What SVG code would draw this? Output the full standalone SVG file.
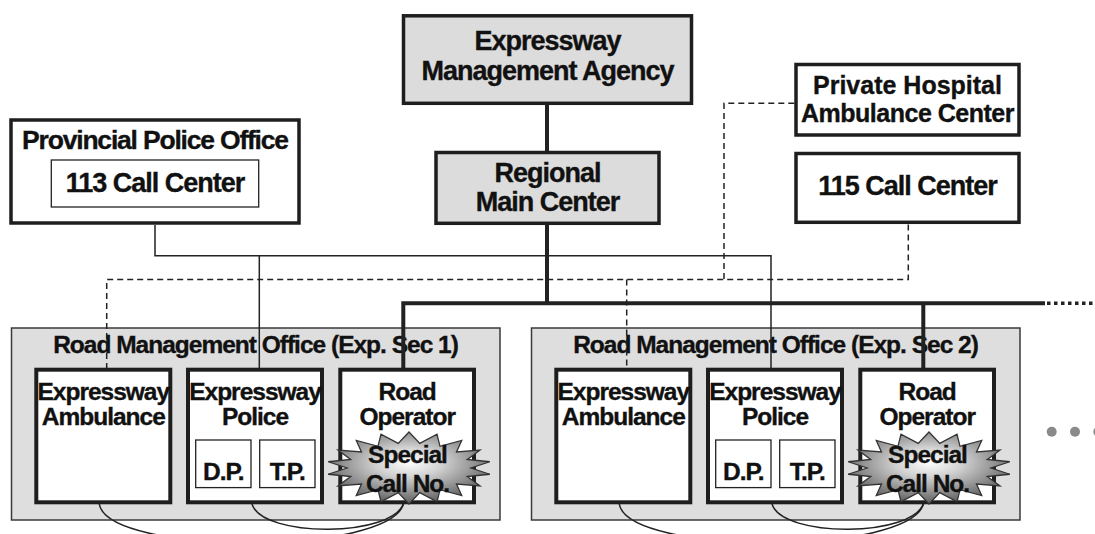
<svg xmlns="http://www.w3.org/2000/svg" width="1095" height="534" viewBox="0 0 1095 534">
  <style>
    .t { font-family: "Liberation Sans", Arial, Helvetica, sans-serif; font-weight: bold; fill: #111; stroke: #111; stroke-width: 0.35px; text-anchor: middle; }
    .big { font-size: 27px; letter-spacing: -1px; }
    .mid { font-size: 24.5px; letter-spacing: -1px; }
    .box { stroke: #1e1e1e; stroke-width: 3.5; }
    .ibox { fill: #fff; stroke: #1e1e1e; stroke-width: 4; }
    .gray { fill: #dcdcdc; }
    .white { fill: #fff; }
    .thinbox { fill: #fff; stroke: #222; stroke-width: 1.3; }
    .sec { fill: #dedede; stroke: #3a3a3a; stroke-width: 1.5; }
    .wire { fill: none; stroke: #222; stroke-width: 1.5; }
    .dash { fill: none; stroke: #222; stroke-width: 1.5; stroke-dasharray: 6 4; }
    .bus { fill: none; stroke: #222; stroke-width: 4; }
    .star { fill: url(#metal); stroke: #333; stroke-width: 1.3; stroke-linejoin: miter; }
  </style>
  <defs>
    <radialGradient id="metal" cx="50%" cy="42%" r="58%">
      <stop offset="0" stop-color="#ffffff"/>
      <stop offset="0.35" stop-color="#d2d2d2"/>
      <stop offset="1" stop-color="#5c5c5c"/>
    </radialGradient>
    <!-- starburst badge, centred on the origin -->
    <polygon id="burst" class="star" points="0,-36 10.8,-24.6 28,-33.8 31,-21.7 52.7,-27.6 47.5,-16.1 71,-18 58.3,-8.55 80.8,-6.25 62,0 80.8,6.25 58.3,8.55 71,18 47.5,16.1 52.7,27.6 31,21.7 28,33.8 10.8,24.6 0,36 -10.8,24.6 -28,33.8 -31,21.7 -52.7,27.6 -47.5,16.1 -71,18 -58.3,8.55 -80.8,6.25 -62,0 -80.8,-6.25 -58.3,-8.55 -71,-18 -47.5,-16.1 -52.7,-27.6 -31,-21.7 -28,-33.8 -10.8,-24.6"/>
  </defs>

  <!-- section backgrounds with titles -->
  <g id="sec1">
    <rect class="sec" x="11.5" y="328" width="488.5" height="192"/>
    <text class="t mid" x="255.5" y="353.3">Road Management Office (Exp. Sec 1)</text>
  </g>
  <g id="sec2">
    <rect class="sec" x="531.5" y="328" width="488.5" height="192"/>
    <text class="t mid" x="775.5" y="353.3">Road Management Office (Exp. Sec 2)</text>
  </g>

  <!-- connectors -->
  <g id="connectors">
    <path class="bus" d="M547,105 V151"/>
    <path class="bus" d="M547,225 V303.3"/>
    <path class="bus" d="M403.3,369 V303.3 H1045"/>
    <path class="bus" d="M923.3,303.3 V369"/>
    <path d="M1047,303.3 H1095" fill="none" stroke="#222" stroke-width="3.5" stroke-dasharray="3.5 3.5"/>
    <path class="wire" d="M155,225 V255.7 H771 V369"/>
    <path class="wire" d="M259.3,255.7 V369"/>
    <path class="dash" d="M106.7,369 V279.5 H908.3 V224"/>
    <path class="dash" d="M626.7,279.5 V369"/>
    <path class="dash" d="M794.3,103.3 H724 V279.5"/>
    <path class="wire" d="M99.3,504 C108,556 395,556 404,502"/>
    <path class="wire" d="M252,504 C262,538 395,538 404,502"/>
    <path class="wire" d="M619.3,504 C628,556 915,556 924,502"/>
    <path class="wire" d="M772,504 C782,538 915,538 924,502"/>
  </g>

  <!-- top level -->
  <g id="ema">
    <rect class="box gray" x="403.5" y="15.8" width="288" height="87.5"/>
    <text class="t big" x="547.5" y="50">Expressway</text>
    <text class="t big" x="547.5" y="80">Management Agency</text>
  </g>
  <g id="rmc">
    <rect class="box gray" x="436" y="152.5" width="223" height="70.8"/>
    <text class="t big" x="547.5" y="181.7">Regional</text>
    <text class="t big" x="547.5" y="210.7">Main Center</text>
  </g>
  <g id="ppo">
    <rect class="box white" x="11" y="120" width="288" height="103"/>
    <text class="t" style="font-size:26.5px;letter-spacing:-1.2px" x="155" y="149.3">Provincial Police Office</text>
  </g>
  <g id="cc113">
    <rect class="thinbox" x="51.3" y="160" width="207.4" height="47"/>
    <text class="t big" x="155" y="191.7">113 Call Center</text>
  </g>
  <g id="phac">
    <rect class="box white" x="796" y="64.5" width="223" height="70.5"/>
    <text class="t" style="font-size:25px" x="907.5" y="94">Private Hospital</text>
    <text class="t" style="font-size:25px;letter-spacing:-0.5px" x="907.5" y="122.3">Ambulance Center</text>
  </g>
  <g id="cc115">
    <rect class="box white" x="796" y="153.5" width="223" height="68.8"/>
    <text class="t big" x="907.5" y="195">115 Call Center</text>
  </g>

  <!-- section 1 units -->
  <g id="amb1">
    <rect class="ibox" x="36.3" y="369.7" width="134" height="132.6"/>
    <text class="t mid" x="103.3" y="399.5">Expressway</text>
    <text class="t mid" x="103.3" y="425">Ambulance</text>
  </g>
  <g id="pol1">
    <rect class="ibox" x="188" y="369.7" width="134" height="132.6"/>
    <text class="t mid" x="255" y="399.5">Expressway</text>
    <text class="t mid" x="255" y="425">Police</text>
    <rect class="thinbox" x="195.7" y="440" width="55.3" height="47.6"/>
    <text class="t mid" x="223.3" y="480">D.P.</text>
    <rect class="thinbox" x="259.7" y="440" width="55.3" height="47.6"/>
    <text class="t mid" x="287.3" y="480">T.P.</text>
  </g>
  <g id="op1">
    <rect class="ibox" x="340.3" y="369.7" width="133.7" height="132.6"/>
    <text class="t mid" x="407.2" y="399.5">Road</text>
    <text class="t mid" x="407.2" y="425">Operator</text>
    <use href="#burst" x="409" y="468"/>
    <text class="t mid" x="407.5" y="463.3">Special</text>
    <text class="t mid" x="407.5" y="491.7">Call No.</text>
  </g>

  <!-- section 2 units -->
  <g id="amb2">
    <rect class="ibox" x="556.3" y="369.7" width="134" height="132.6"/>
    <text class="t mid" x="623.3" y="399.5">Expressway</text>
    <text class="t mid" x="623.3" y="425">Ambulance</text>
  </g>
  <g id="pol2">
    <rect class="ibox" x="708" y="369.7" width="134" height="132.6"/>
    <text class="t mid" x="775" y="399.5">Expressway</text>
    <text class="t mid" x="775" y="425">Police</text>
    <rect class="thinbox" x="715.7" y="440" width="55.3" height="47.6"/>
    <text class="t mid" x="743.3" y="480">D.P.</text>
    <rect class="thinbox" x="779.7" y="440" width="55.3" height="47.6"/>
    <text class="t mid" x="807.3" y="480">T.P.</text>
  </g>
  <g id="op2">
    <rect class="ibox" x="860.3" y="369.7" width="133.7" height="132.6"/>
    <text class="t mid" x="927.2" y="399.5">Road</text>
    <text class="t mid" x="927.2" y="425">Operator</text>
    <use href="#burst" x="929" y="468"/>
    <text class="t mid" x="927.5" y="463.3">Special</text>
    <text class="t mid" x="927.5" y="491.7">Call No.</text>
  </g>

  <!-- continuation marks -->
  <g id="more" fill="#8a8a8a">
    <circle cx="1051.7" cy="431.7" r="5"/>
    <circle cx="1075" cy="431.7" r="5"/>
    <circle cx="1098.3" cy="431.7" r="5"/>
  </g>
</svg>
